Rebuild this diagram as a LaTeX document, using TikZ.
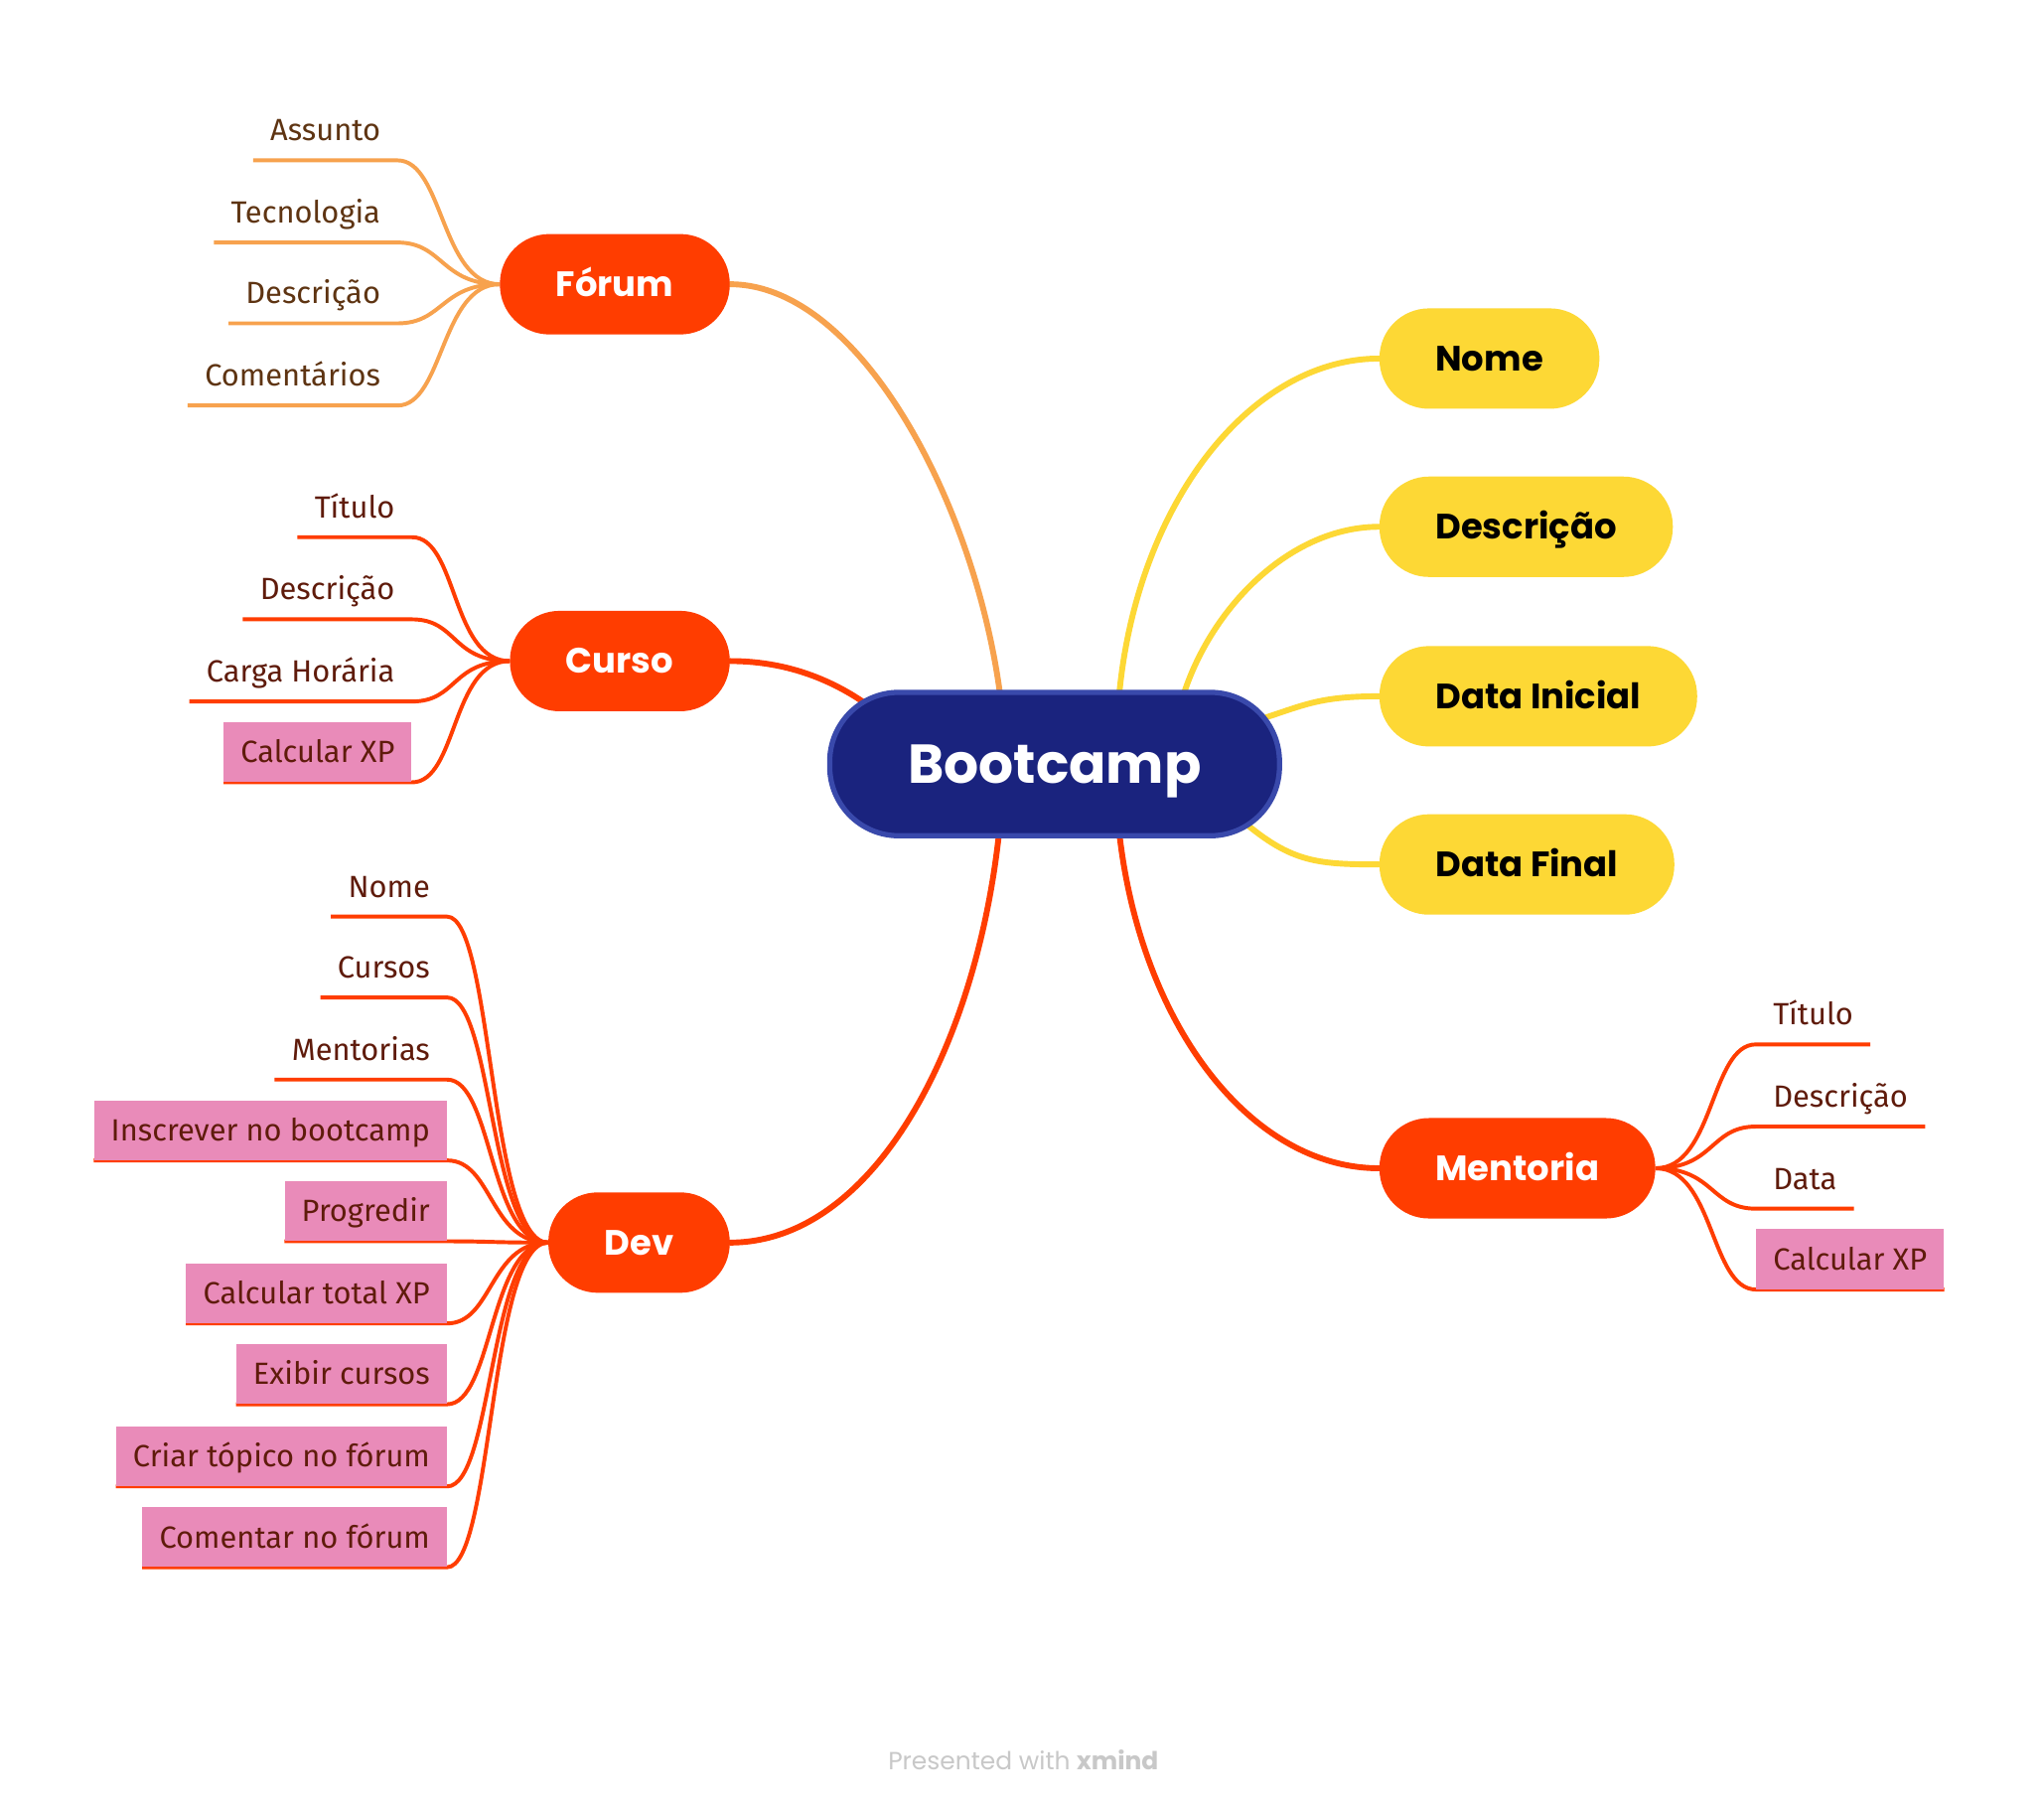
\documentclass[tikz,border=0pt]{standalone}
\usepackage{fontspec}
\usetikzlibrary{backgrounds,calc}
\newfontfamily\popfont{Poppins}
\newfontfamily\subfont{Fira Sans}
\definecolor{xred}{HTML}{FF3D00}
\definecolor{xorange}{HTML}{F7A24E}
\definecolor{xyellow}{HTML}{FDD835}
\definecolor{xnavy}{HTML}{1A237E}
\definecolor{xnavyb}{HTML}{3949AB}
\definecolor{xpink}{HTML}{E98BB9}
\definecolor{xbrown}{HTML}{5E3412}
\definecolor{xmaroon}{HTML}{5F1B0B}
\definecolor{xfoot}{HTML}{C8C8C8}
\begin{document}
\begin{tikzpicture}[x=1pt,y=-1pt,
  bootbox/.style={fill=xnavy, draw=xnavyb, line width=4pt, rounded corners=53pt,
    minimum width=345pt, minimum height=110pt, inner sep=0pt, text=white,
    font=\popfont\bfseries\fontsize{42}{42}\selectfont, text height=30pt, text depth=0pt},
  pillbase/.style={rounded corners=38pt, minimum height=77pt, inner xsep=43pt, inner ysep=0pt,
    font=\popfont\bfseries\fontsize{27}{27}\selectfont, text height=19pt, text depth=0pt},
  redpill/.style={pillbase, fill=xred, text=white},
  yelpill/.style={pillbase, fill=xyellow, text=black},
  subbase/.style={minimum height=46pt, inner xsep=13pt, inner ysep=0pt,
    font=\subfont\fontsize{23.5}{23.5}\selectfont, text height=16.5pt, text depth=0pt},
  fsub/.style={subbase, text=xbrown},
  rsub/.style={subbase, text=xmaroon},
  psub/.style={subbase, text=xmaroon, fill=xpink},
  mainline/.style={line width=4.5pt, line cap=round},
  subline/.style={line width=3pt},
]
% nodes
\node[bootbox] (boot) at (809,586) {Bootcamp};
\node[redpill, anchor=east] (forum) at (560,218) {Fórum};
\node[redpill, anchor=east] (curso) at (560,507) {Curso};
\node[redpill, anchor=east] (dev) at (560,953) {Dev};
\node[redpill, anchor=west] (ment) at (1058,896) {Mentoria};
\node[yelpill, anchor=west] (ynome) at (1058,275) {Nome};
\node[yelpill, anchor=west] (ydesc) at (1058,404) {Descrição};
\node[yelpill, anchor=west] (yini) at (1058,534) {Data Inicial};
\node[yelpill, anchor=west] (yfin) at (1058,663) {Data Final};
% forum subtopics
\node[fsub, anchor=south east] (f1) at (305,123) {Assunto};
\node[fsub, anchor=south east] (f2) at (305,186) {Tecnologia};
\node[fsub, anchor=south east] (f3) at (305,248) {Descrição};
\node[fsub, anchor=south east] (f4) at (305,311) {Comentários};
% curso subtopics
\node[rsub, anchor=south east] (c1) at (316,412) {Título};
\node[rsub, anchor=south east] (c2) at (316,475) {Descrição};
\node[rsub, anchor=south east] (c3) at (316,538) {Carga Horária};
\node[psub, anchor=south east] (c4) at (316,600) {Calcular XP};
% dev subtopics
\node[rsub, anchor=south east] (d1) at (343,703) {Nome};
\node[rsub, anchor=south east] (d2) at (343,765) {Cursos};
\node[rsub, anchor=south east] (d3) at (343,828) {Mentorias};
\node[psub, anchor=south east] (d4) at (343,890) {Inscrever no bootcamp};
\node[psub, anchor=south east] (d5) at (343,952) {Progredir};
\node[psub, anchor=south east] (d6) at (343,1015) {Calcular total XP};
\node[psub, anchor=south east] (d7) at (343,1077) {Exibir cursos};
\node[psub, anchor=south east] (d8) at (343,1140) {Criar tópico no fórum};
\node[psub, anchor=south east] (d9) at (343,1202) {Comentar no fórum};
% mentoria subtopics
\node[rsub, anchor=south west] (m1) at (1347,801) {Título};
\node[rsub, anchor=south west] (m2) at (1347,864) {Descrição};
\node[rsub, anchor=south west] (m3) at (1347,927) {Data};
\node[psub, anchor=south west] (m4) at (1347,989) {Calcular XP};
% footer
\node[text=xfoot, font=\popfont\fontsize{19}{19}\selectfont] (foot) at (785,1350) {Presented with \textbf{xmind}};

\begin{pgfonlayer}{background}
\fill[white] (0,0) rectangle (1568,1387);
% main connectors
\draw[mainline, xorange] (forum.east) .. controls +(100,0) and +(-18,-150) .. ([xshift=-41pt, yshift=-10pt]boot.north);
\draw[mainline, xred] (curso.east) .. controls +(50,0) and +(-30,-25) .. ([shift={(-130,-35)}]boot.center);
\draw[mainline, xred] (dev.east) .. controls +(110,0) and +(-17,170) .. ([xshift=-42pt, yshift=10pt]boot.south);
\draw[mainline, xred] (ment.west) .. controls +(-100,0) and +(15,150) .. ([xshift=49pt, yshift=10pt]boot.south);
\draw[mainline, xyellow] (ynome.west) .. controls +(-100,0) and +(12,-150) .. ([xshift=49pt, yshift=-10pt]boot.north);
\draw[mainline, xyellow] (ydesc.west) .. controls +(-70,0) and +(20,-70) .. ([xshift=97pt, yshift=-10pt]boot.north);
\draw[mainline, xyellow] (yini.west) .. controls +(-50,0) and +(40,-12) .. ([shift={(150,-32)}]boot.center);
\draw[mainline, xyellow] (yfin.west) .. controls +(-50,0) and +(40,35) .. ([shift={(140,40)}]boot.center);
% forum subs
\foreach \n in {f1,f2,f3,f4}
  \draw[subline, xorange] (forum.west) .. controls +(-45,0) and +(35,0) .. (\n.south east) -- (\n.south west);
% curso subs
\foreach \n in {c1,c2,c3,c4}
  \draw[subline, xred] (curso.west) .. controls +(-45,0) and +(35,0) .. (\n.south east) -- (\n.south west);
% dev subs
\foreach \n in {d1,d2,d3,d4,d5,d6,d7,d8,d9}
  \draw[subline, xred] (dev.west) .. controls +(-45,0) and +(35,0) .. (\n.south east) -- (\n.south west);
% mentoria subs
\foreach \n in {m1,m2,m3,m4}
  \draw[subline, xred] (ment.east) .. controls +(45,0) and +(-35,0) .. (\n.south west) -- (\n.south east);
\end{pgfonlayer}
\end{tikzpicture}
\end{document}
